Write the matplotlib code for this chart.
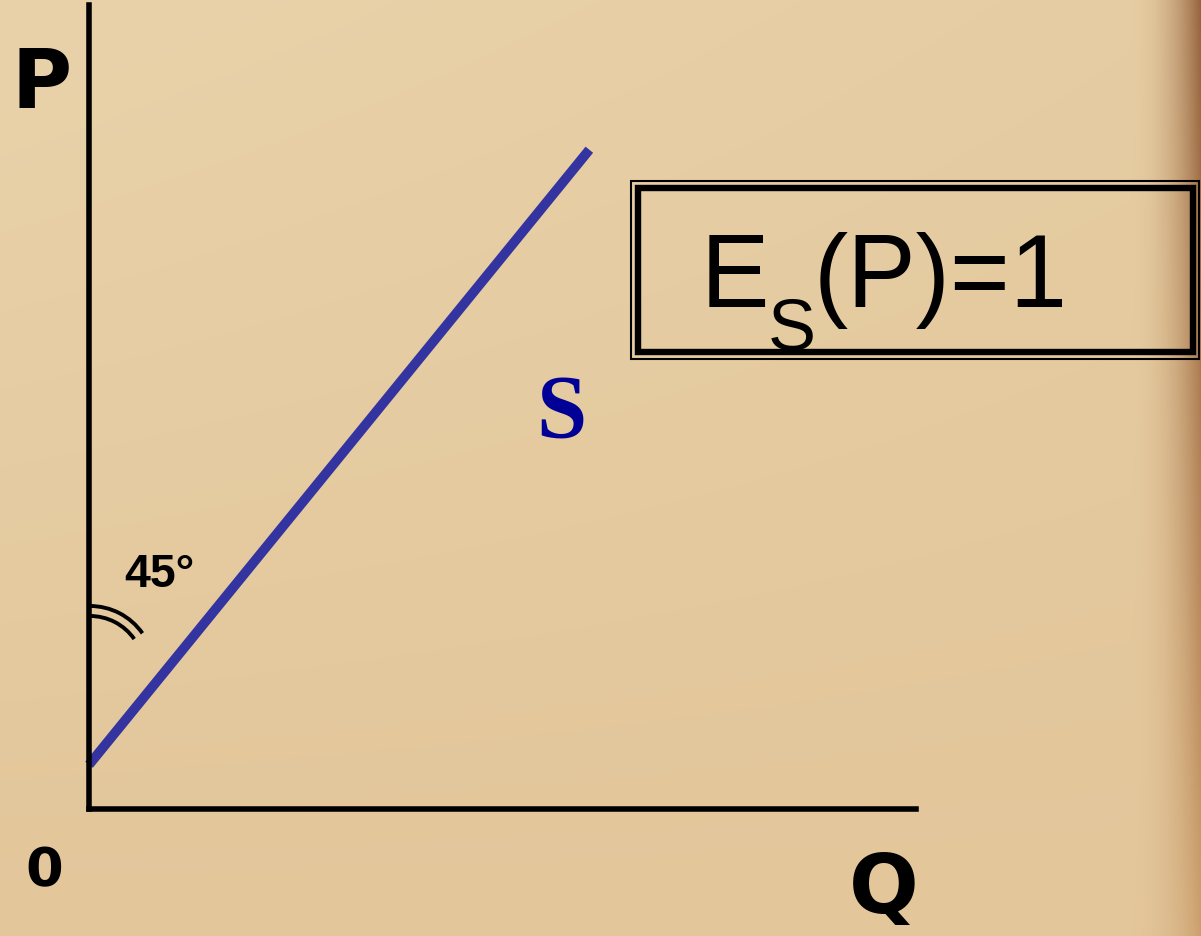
import numpy as np
import matplotlib
matplotlib.use('Agg')
from matplotlib import pyplot as plt
from matplotlib import font_manager
from matplotlib.patches import Arc, Rectangle

# DATA: supply curve S (quantity vs price, chart units)
s_q = [0.0, 6.05]
s_p = [0.55, 8.2]
q_max = 10
p_max = 10

label_p = "P"
label_q = "Q"
label_origin = "0"
label_curve = "S"
label_angle = "45°"
elasticity = ["E", "S", "(P)=1"]

W, H = 1201, 937
DPI = 100

# narrow font for the formula if it exists
names = {f.name for f in font_manager.fontManager.ttflist}
if 'Liberation Sans Narrow' in names:
    box_font, box_size = 'Liberation Sans Narrow', 81
else:
    box_font, box_size = 'Liberation Sans', 74

fig = plt.figure(figsize=(W / DPI, H / DPI), dpi=DPI)

# BACKGROUND (parchment)
bg = fig.add_axes([0, 0, 1, 1])
bg.set_xlim(0, W)
bg.set_ylim(H, 0)
bg.axis('off')

xx = np.linspace(0, 1, W)[None, :, None]
yy = np.linspace(0, 1, H)[:, None, None]
base = np.array([227, 198, 154]) / 255
light = np.array([233, 210, 170]) / 255
img = base + (light - base) * (1 - yy) * (1 - 0.5 * xx)
edge = np.clip((xx - 0.94) / 0.06, 0, 1) ** 2.2
dark_top = np.array([150, 100, 62]) / 255
dark_bot = np.array([205, 160, 110]) / 255
dark = dark_top + (dark_bot - dark_top) * yy
img = img * (1 - edge) + dark * edge
img = np.clip(img, 0, 1)
bg.imshow(img, extent=[0, W, H, 0], aspect='auto', zorder=0)

# CHART AXES
x0, x1, y0, y1 = 89, 916, 810, 6
ax = fig.add_axes([x0 / W, (H - y0) / H, (x1 - x0) / W, (y0 - y1) / H])
ax.patch.set_alpha(0)
ax.set_xlim(0, q_max)
ax.set_ylim(0, p_max)
for side in ['top', 'right']:
    ax.spines[side].set_visible(False)
for side in ['left', 'bottom']:
    ax.spines[side].set_linewidth(4)
    ax.spines[side].set_color('black')
ax.set_xticks([])
ax.set_yticks([])

ax.plot(s_q, s_p, color='#3434A0', linewidth=7, solid_capstyle='butt', clip_on=False)

# ANNOTATIONS (overlay in pixel coords)
ov = fig.add_axes([0, 0, 1, 1])
ov.patch.set_alpha(0)
ov.set_xlim(0, W)
ov.set_ylim(H, 0)
ov.axis('off')

ov.text(42, 85, label_p, fontsize=59, fontweight='bold', family='DejaVu Sans',
        ha='center', va='center')
ov.text(884, 913, label_q, fontsize=59, fontweight='bold', family='DejaVu Sans',
        ha='center', va='baseline')
ov.text(44, 871, label_origin, fontsize=39, fontweight='bold', family='DejaVu Sans',
        ha='center', va='center')
ov.text(561, 438, label_curve, fontsize=65, fontweight='bold', family='Liberation Serif',
        color='#000096', ha='center', va='baseline')
ov.text(124, 587, label_angle, fontsize=33.5, fontweight='bold', family='Liberation Sans',
        ha='left', va='baseline')

for r in [64, 54]:
    ov.add_patch(Arc((90, 671), 2 * r, 2 * r, theta1=-90, theta2=-35,
                     color='black', linewidth=2.8))

# formula box (double border)
ov.add_patch(Rectangle((631, 182), 568, 178, fill=False, edgecolor='black', linewidth=1.5))
ov.add_patch(Rectangle((637.5, 188.5), 555, 164, fill=False, edgecolor='black', linewidth=4.6))

renderer = fig.canvas.get_renderer()
t_e = ov.text(701, 307, elasticity[0], fontsize=box_size, family=box_font,
              ha='left', va='baseline')
bb = t_e.get_window_extent(renderer)
xe = ov.transData.inverted().transform((bb.x1, bb.y0))[0]
t_s = ov.text(xe - 2, 350, elasticity[1], fontsize=box_size * 0.7, family=box_font,
              ha='left', va='baseline')
bb2 = t_s.get_window_extent(renderer)
xs = ov.transData.inverted().transform((bb2.x1, bb2.y0))[0]
ov.text(xs - 2, 307, elasticity[2], fontsize=box_size, family=box_font,
        ha='left', va='baseline')

fig.savefig('out.png', dpi=DPI)
